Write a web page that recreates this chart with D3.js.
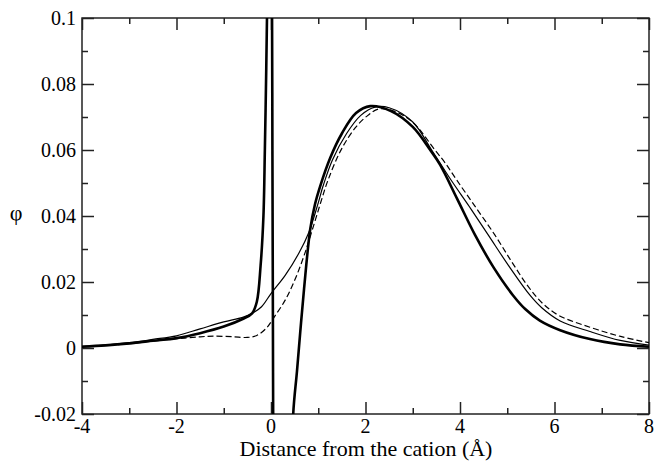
<!DOCTYPE html>
<html>
<head>
<meta charset="utf-8">
<script src="https://cdnjs.cloudflare.com/ajax/libs/d3/7.8.5/d3.min.js"></script>
<style>
    body { margin: 0; background: #fff; }
</style>
</head>
<body>
<script>
// distance from the cation (Å) and phi for the three curves
var thickX = [-4, -3.5, -3, -2.5, -2, -1.5, -1, -0.6, -0.4, -0.3, -0.22, -0.16, -0.13, -0.1, -0.08, -0.05,
    0.0, 0.02, 0.03, 0.04, 0.05, 0.06, 0.4, 0.47, 0.55, 0.62, 0.7, 0.83, 0.93, 1.04, 1.25, 1.5, 1.8, 2.1,
    2.54, 3.0, 3.37, 3.58, 3.94, 4.32, 4.72, 5.12, 5.38, 5.69, 6.12, 6.75, 7.39, 8];
var thickY = [0.0004, 0.0008, 0.0014, 0.0022, 0.003, 0.0045, 0.0065, 0.0088, 0.0105, 0.014, 0.025, 0.04, 0.06, 0.085, 0.105, 0.13,
    0.135, 0.11, 0.06, 0.01, -0.04, -0.06, -0.06, -0.02, -0.007, 0.005, 0.018, 0.036, 0.0435, 0.049, 0.0575, 0.065, 0.0712, 0.0733,
    0.0718, 0.067, 0.060, 0.0555, 0.0452, 0.0342, 0.0242, 0.016, 0.0118, 0.0083, 0.0054, 0.0027, 0.0011, 0.0004];

var thinX = [-4, -3.5, -3, -2.5, -2, -1.5, -1, -0.6, -0.4, -0.2, 0, 0.3, 0.6, 0.8, 1.0, 1.1, 1.3, 1.6, 1.9, 2.2, 2.5,
    3.0, 3.4, 3.81, 4.2, 4.6, 5.05, 5.48, 5.73, 6.12, 6.75, 7.39, 8];
var thinY = [0.0005, 0.0009, 0.0016, 0.0026, 0.0037, 0.0058, 0.0079, 0.0093, 0.0105, 0.0125, 0.0165, 0.022, 0.029, 0.035, 0.044, 0.049, 0.057, 0.065, 0.0705, 0.073, 0.0728,
    0.0685, 0.060, 0.0509, 0.0428, 0.0342, 0.0245, 0.016, 0.0122, 0.0082, 0.005, 0.0023, 0.0009];

var dashX = [-4, -3.5, -3, -2.5, -2, -1.5, -1.2, -0.8, -0.5, -0.3, -0.1, 0.05, 0.3, 0.5, 0.7, 0.9, 1.05, 1.21, 1.5, 1.8, 2.05, 2.27, 2.6,
    3.0, 3.47, 3.68, 3.93, 4.3, 4.74, 5.1, 5.45, 5.75, 6.1, 6.75, 7.4, 8];
var dashY = [0.0004, 0.0008, 0.0013, 0.0021, 0.0028, 0.0034, 0.0036, 0.0034, 0.0032, 0.0038, 0.006, 0.009, 0.0145, 0.0205, 0.028, 0.037, 0.044, 0.051, 0.0605, 0.067, 0.0705, 0.0724, 0.0718,
    0.0684, 0.060, 0.0562, 0.0509, 0.0433, 0.0342, 0.026, 0.0185, 0.0135, 0.0098, 0.0063, 0.0035, 0.0016];

var xTicks = [-4, -2, 0, 2, 4, 6, 8];
var xMinor = [-3, -1, 1, 3, 5, 7];
var yTicks = [-0.02, 0, 0.02, 0.04, 0.06, 0.08, 0.1];
var yMinor = [-0.01, 0.01, 0.03, 0.05, 0.07, 0.09];

draw_chart();

function draw_chart() {
    var w = 654;
    var h = 462;
    var left = 82, right = 649, top = 18, bottom = 414;
    var font = "'Liberation Serif'";

    var svg = d3.select("body")
        .append("svg")
        .attr("width", w)
        .attr("height", h);

    var x = d3.scaleLinear().domain([-4, 8]).range([left, right]);
    var y = d3.scaleLinear().domain([-0.02, 0.1]).range([bottom, top]);

    svg.append("clipPath")
        .attr("id", "plot")
        .append("rect")
        .attr("x", left)
        .attr("y", top)
        .attr("width", right - left)
        .attr("height", bottom - top);

    var fmt = function(d) { return d === 0 ? "0" : String(d); };

    // ticks pointing inward on all four sides
    var sides = [
        { axis: d3.axisTop(x), at: "translate(0," + bottom + ")", major: xTicks, minor: xMinor },
        { axis: d3.axisBottom(x), at: "translate(0," + top + ")", major: xTicks, minor: xMinor },
        { axis: d3.axisRight(y), at: "translate(" + left + ",0)", major: yTicks, minor: yMinor },
        { axis: d3.axisLeft(y), at: "translate(" + right + ",0)", major: yTicks, minor: yMinor }
    ];
    sides.forEach(function(s) {
        svg.append("g")
            .attr("transform", s.at)
            .call(s.axis.tickValues(s.major).tickSize(12).tickFormat(""));
        svg.append("g")
            .attr("transform", s.at)
            .call(s.axis.tickValues(s.minor).tickSize(6).tickFormat(""));
    });

    svg.selectAll(".domain").remove();
    svg.selectAll(".tick line").attr("stroke", "#222").attr("stroke-width", 1.5);

    svg.append("rect")
        .attr("x", left)
        .attr("y", top)
        .attr("width", right - left)
        .attr("height", bottom - top)
        .attr("fill", "none")
        .attr("stroke", "#222")
        .attr("stroke-width", 1.5);

    // tick labels
    svg.selectAll(".xlab")
        .data(xTicks)
        .enter()
        .append("text")
        .attr("x", function(d) { return x(d); })
        .attr("y", 433)
        .attr("text-anchor", "middle")
        .style("font-family", font)
        .style("font-size", "20px")
        .text(fmt);

    svg.selectAll(".ylab")
        .data(yTicks)
        .enter()
        .append("text")
        .attr("x", left - 6)
        .attr("y", function(d) { return y(d) + 7; })
        .attr("text-anchor", "end")
        .style("font-family", font)
        .style("font-size", "20px")
        .text(fmt);

    svg.append("text")
        .attr("x", 366)
        .attr("y", 456)
        .attr("text-anchor", "middle")
        .style("font-family", font)
        .style("font-size", "22px")
        .text("Distance from the cation (Å)");

    svg.append("text")
        .attr("x", 16)
        .attr("y", 220)
        .attr("text-anchor", "middle")
        .style("font-family", font)
        .style("font-size", "22px")
        .text("φ");

    var line = d3.line()
        .x(function(d) { return x(d[0]); })
        .y(function(d) { return y(d[1]); })
        .curve(d3.curveCatmullRom.alpha(0.5));

    var curves = [
        { xs: dashX, ys: dashY, width: 1.2, dash: "6,3" },
        { xs: thinX, ys: thinY, width: 1.2, dash: null },
        { xs: thickX, ys: thickY, width: 2.6, dash: null }
    ];

    svg.append("g")
        .attr("clip-path", "url(#plot)")
        .selectAll("path")
        .data(curves)
        .enter()
        .append("path")
        .attr("d", function(c) { return line(d3.zip(c.xs, c.ys)); })
        .attr("fill", "none")
        .attr("stroke", "#000")
        .attr("stroke-width", function(c) { return c.width; })
        .attr("stroke-dasharray", function(c) { return c.dash; });
}
</script>
</body>
</html>
